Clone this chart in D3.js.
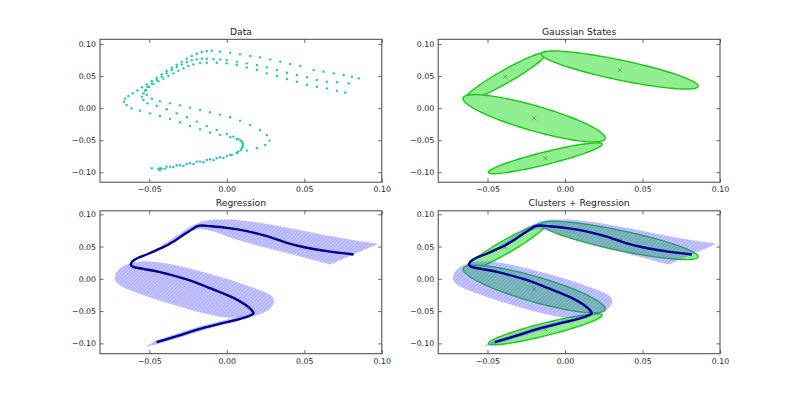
<!DOCTYPE html>
<html>
<head>
<meta charset="utf-8">
<script src="https://cdn.jsdelivr.net/npm/d3@7"></script>
<style>
  body { margin: 0; background: #fff; }
  svg { display: block; font-family: "DejaVu Sans", sans-serif; }
</style>
</head>
<body>
<script>

// ---- data ----
var demoA = [[-0.0431,-0.0938],[-0.0388,-0.0912],[-0.0323,-0.0891],[-0.0258,-0.0870],[-0.0194,-0.0834],[-0.0129,-0.0808],[-0.0065,-0.0782],[0.0000,-0.0745],[0.0065,-0.0704],[0.0129,-0.0662],[0.0194,-0.0626],[0.0248,-0.0574],[0.0276,-0.0507],[0.0258,-0.0418],[0.0215,-0.0340],[0.0151,-0.0262],[0.0086,-0.0195],[0.0022,-0.0143],[-0.0043,-0.0101],[-0.0108,-0.0065],[-0.0172,-0.0029],[-0.0237,0.0008],[-0.0301,0.0044],[-0.0366,0.0075],[-0.0431,0.0106],[-0.0484,0.0148],[-0.0517,0.0205],[-0.0528,0.0273],[-0.0512,0.0335],[-0.0484,0.0387],[-0.0452,0.0439],[-0.0420,0.0491],[-0.0388,0.0543],[-0.0355,0.0595],[-0.0323,0.0642],[-0.0291,0.0683],[-0.0258,0.0720],[-0.0226,0.0745],[-0.0194,0.0761],[-0.0161,0.0771],[-0.0129,0.0771],[-0.0086,0.0766],[-0.0043,0.0761],[0.0000,0.0751],[0.0065,0.0725],[0.0129,0.0699],[0.0194,0.0673],[0.0258,0.0636],[0.0323,0.0595],[0.0388,0.0553],[0.0452,0.0517],[0.0517,0.0481],[0.0581,0.0439],[0.0646,0.0413],[0.0711,0.0403],[0.0786,0.0387]];

var demoB = [[-0.0441,-0.0953],[-0.0420,-0.0943],[-0.0366,-0.0912],[-0.0301,-0.0891],[-0.0237,-0.0860],[-0.0172,-0.0834],[-0.0108,-0.0797],[-0.0043,-0.0766],[0.0022,-0.0730],[0.0065,-0.0694],[0.0090,-0.0652],[0.0103,-0.0600],[0.0103,-0.0548],[0.0090,-0.0507],[0.0065,-0.0481],[0.0022,-0.0455],[-0.0043,-0.0418],[-0.0108,-0.0382],[-0.0172,-0.0330],[-0.0237,-0.0278],[-0.0301,-0.0221],[-0.0366,-0.0169],[-0.0431,-0.0122],[-0.0495,-0.0081],[-0.0560,-0.0039],[-0.0614,-0.0003],[-0.0646,0.0049],[-0.0663,0.0101],[-0.0657,0.0148],[-0.0635,0.0190],[-0.0607,0.0231],[-0.0577,0.0278],[-0.0547,0.0325],[-0.0517,0.0371],[-0.0484,0.0423],[-0.0452,0.0475],[-0.0420,0.0527],[-0.0388,0.0579],[-0.0355,0.0631],[-0.0323,0.0678],[-0.0291,0.0725],[-0.0258,0.0771],[-0.0226,0.0813],[-0.0194,0.0849],[-0.0161,0.0875],[-0.0129,0.0891],[-0.0097,0.0896],[-0.0043,0.0881],[0.0022,0.0865],[0.0086,0.0839],[0.0151,0.0813],[0.0215,0.0792],[0.0280,0.0761],[0.0345,0.0725],[0.0409,0.0688],[0.0474,0.0657],[0.0560,0.0595],[0.0624,0.0569],[0.0689,0.0543],[0.0754,0.0517],[0.0807,0.0491],[0.0851,0.0465]];

var demoC = [[-0.0484,-0.0938],[-0.0431,-0.0964],[-0.0398,-0.0943],[-0.0345,-0.0922],[-0.0280,-0.0901],[-0.0215,-0.0870],[-0.0151,-0.0844],[-0.0086,-0.0813],[-0.0022,-0.0777],[0.0032,-0.0730],[0.0075,-0.0678],[0.0097,-0.0626],[0.0103,-0.0574],[0.0097,-0.0522],[0.0075,-0.0486],[0.0043,-0.0444],[0.0000,-0.0403],[-0.0065,-0.0340],[-0.0129,-0.0278],[-0.0194,-0.0210],[-0.0258,-0.0143],[-0.0323,-0.0081],[-0.0388,-0.0018],[-0.0452,0.0034],[-0.0512,0.0075],[-0.0538,0.0127],[-0.0547,0.0179],[-0.0538,0.0231],[-0.0521,0.0283],[-0.0500,0.0335],[-0.0474,0.0377],[-0.0441,0.0418],[-0.0409,0.0460],[-0.0377,0.0501],[-0.0345,0.0543],[-0.0312,0.0584],[-0.0280,0.0621],[-0.0248,0.0657],[-0.0215,0.0683],[-0.0172,0.0704],[-0.0129,0.0709],[-0.0065,0.0709],[0.0000,0.0699],[0.0065,0.0673],[0.0129,0.0636],[0.0194,0.0595],[0.0258,0.0543],[0.0323,0.0501],[0.0388,0.0455],[0.0452,0.0413],[0.0517,0.0361],[0.0581,0.0335],[0.0646,0.0309],[0.0711,0.0273],[0.0764,0.0242]];

// gaussian states: centre, major half-axis, minor half-axis (data units)
var stateCenters = [[-0.0386,0.0491],[0.0353,0.0595],[-0.0199,-0.0158],[-0.0127,-0.0782]];
var stateMajor   = [[0.0264,0.0364],[0.0506,-0.0255],[0.0458,-0.0317],[0.0367,0.0221]];
var stateMinor   = [[0.0021,-0.0088],[-0.0013,-0.0152],[-0.0022,-0.0188],[0.0010,-0.0095]];

// regression mean
var regMean = [[-0.0453,-0.0982],[-0.0323,-0.0889],[-0.0173,-0.0775],[0.0000,-0.0672],[0.0086,-0.0620],[0.0151,-0.0568],[0.0172,-0.0537],[0.0161,-0.0486],[0.0118,-0.0398],[0.0043,-0.0295],[-0.0108,-0.0145],[-0.0259,-0.0010],[-0.0431,0.0103],[-0.0539,0.0155],[-0.0603,0.0186],[-0.0620,0.0222],[-0.0607,0.0274],[-0.0571,0.0326],[-0.0517,0.0377],[-0.0453,0.0444],[-0.0388,0.0517],[-0.0323,0.0610],[-0.0259,0.0713],[-0.0216,0.0780],[-0.0190,0.0817],[-0.0162,0.0827],[-0.0108,0.0817],[0.0000,0.0790],[0.0129,0.0739],[0.0258,0.0661],[0.0387,0.0558],[0.0516,0.0481],[0.0646,0.0429],[0.0818,0.0377]];

// regression covariance band outlines
var bandUpper = [[-0.0485,0.0403],[-0.0410,0.0532],[-0.0323,0.0672],[-0.0237,0.0806],[-0.0162,0.0894],[-0.0087,0.0920],[0.0043,0.0920],[0.0215,0.0868],[0.0430,0.0775],[0.0646,0.0672],[0.0861,0.0584],[0.0979,0.0543],[0.0667,0.0222],[0.0430,0.0372],[0.0215,0.0506],[0.0043,0.0620],[-0.0087,0.0739],[-0.0173,0.0775],[-0.0237,0.0734],[-0.0323,0.0610],[-0.0410,0.0496],[-0.0474,0.0393]];
var bandMiddle = [[-0.0722,0.0031],[-0.0707,0.0119],[-0.0668,0.0196],[-0.0603,0.0253],[-0.0517,0.0274],[-0.0388,0.0238],[-0.0216,0.0145],[-0.0044,0.0031],[0.0129,-0.0103],[0.0236,-0.0196],[0.0290,-0.0269],[0.0305,-0.0357],[0.0284,-0.0450],[0.0226,-0.0537],[0.0129,-0.0594],[0.0000,-0.0599],[-0.0130,-0.0543],[-0.0259,-0.0465],[-0.0388,-0.0372],[-0.0517,-0.0269],[-0.0625,-0.0176],[-0.0690,-0.0098],[-0.0718,-0.0036]];
var bandLower = [[-0.0528,-0.1054],[-0.0453,-0.0951],[-0.0323,-0.0848],[-0.0173,-0.0734],[0.0000,-0.0630],[0.0129,-0.0568],[0.0160,-0.0579],[0.0129,-0.0620],[0.0000,-0.0693],[-0.0173,-0.0811],[-0.0323,-0.0925],[-0.0453,-0.1018]];

var titles = ["Data", "Gaussian States", "Regression", "Clusters + Regression"];
var xTicks = [-0.05, 0.00, 0.05, 0.10];
var xTickLabels = ["\u22120.05", "0.00", "0.05", "0.10"];
var yTicks = [-0.10, -0.05, 0.00, 0.05, 0.10];
var yTickLabels = ["\u22120.10", "\u22120.05", "0.00", "0.05", "0.10"];
var xLimits = [-0.0818, 0.10];
var yLimitsTop = [-0.1155, 0.1074];
var yLimitsBottom = [-0.1160, 0.1054];

// ---- layout ----
var width = 800, height = 393;
var cols = [[100, 381.8], [438.2, 720]];
var rows = [[39.3, 182.2], [210.8, 353.7]];

var svg = d3.select("body").append("svg")
    .attr("width", width)
    .attr("height", height);

var defs = svg.append("defs");
var pat = defs.append("pattern")
    .attr("id", "hatch")
    .attr("patternUnits", "userSpaceOnUse")
    .attr("width", 2.6).attr("height", 2.6)
    .attr("patternTransform", "rotate(45)");
pat.append("rect").attr("width", 2.6).attr("height", 2.6)
    .attr("fill", "rgb(90,90,255)").attr("fill-opacity", 0.34);
pat.append("line").attr("x1", 0.5).attr("y1", 0).attr("x2", 0.5).attr("y2", 2.6)
    .attr("stroke", "rgb(50,50,255)").attr("stroke-opacity", 0.22).attr("stroke-width", 0.9);

function makePanel(i) {
  var c = cols[i % 2], r = rows[Math.floor(i / 2)];
  var x = d3.scaleLinear().domain(xLimits).range(c);
  var y = d3.scaleLinear().domain(i < 2 ? yLimitsTop : yLimitsBottom).range([r[1], r[0]]);
  var g = svg.append("g");

  defs.append("clipPath").attr("id", "clip" + i)
    .append("rect").attr("x", c[0]).attr("y", r[0])
    .attr("width", c[1] - c[0]).attr("height", r[1] - r[0]);

  var plot = g.append("g").attr("clip-path", "url(#clip" + i + ")");

  // axes, classic style: inward ticks on all four sides
  g.append("g").attr("transform", "translate(0," + r[1] + ")")
    .call(d3.axisBottom(x).tickValues(xTicks).tickFormat(function(d, k) { return xTickLabels[k]; })
      .tickSizeInner(-3.6).tickSizeOuter(0).tickPadding(4.5));
  g.append("g").attr("transform", "translate(0," + r[0] + ")")
    .call(d3.axisTop(x).tickValues(xTicks).tickFormat("").tickSizeInner(-3.6).tickSizeOuter(0));
  g.append("g").attr("transform", "translate(" + c[0] + ",0)")
    .call(d3.axisLeft(y).tickValues(yTicks).tickFormat(function(d, k) { return yTickLabels[k]; })
      .tickSizeInner(-3.6).tickSizeOuter(0).tickPadding(4));
  g.append("g").attr("transform", "translate(" + c[1] + ",0)")
    .call(d3.axisRight(y).tickValues(yTicks).tickFormat("").tickSizeInner(-3.6).tickSizeOuter(0));

  g.selectAll(".domain").remove();
  g.selectAll(".tick line").attr("stroke", "#444").attr("stroke-width", 0.8);
  g.selectAll(".tick text").attr("font-size", "7.8px").attr("fill", "#222")
    .attr("font-family", "DejaVu Sans, sans-serif");

  g.append("rect").attr("x", c[0]).attr("y", r[0])
    .attr("width", c[1] - c[0]).attr("height", r[1] - r[0])
    .attr("fill", "none").attr("stroke", "#444").attr("stroke-width", 1);

  g.append("text").attr("x", (c[0] + c[1]) / 2).attr("y", r[0] - 4.5)
    .attr("text-anchor", "middle").attr("font-size", "9.2px").attr("fill", "#222")
    .text(titles[i]);

  return {plot: plot, x: x, y: y};
}

function drawStates(p) {
  var line = d3.line().x(function(d) { return p.x(d[0]); }).y(function(d) { return p.y(d[1]); })
      .curve(d3.curveLinearClosed);
  stateCenters.forEach(function(ctr, k) {
    var a = stateMajor[k], b = stateMinor[k], pts = [];
    for (var t = 0; t < 120; t++) {
      var th = t / 120 * 2 * Math.PI;
      pts.push([ctr[0] + a[0] * Math.cos(th) + b[0] * Math.sin(th),
                ctr[1] + a[1] * Math.cos(th) + b[1] * Math.sin(th)]);
    }
    p.plot.append("path").attr("d", line(pts))
      .attr("fill", "#90ee90").attr("stroke", "#16c816").attr("stroke-width", 1.4);
  });
  p.plot.selectAll(".ctr").data(stateCenters).enter().append("path")
    .attr("class", "ctr")
    .attr("transform", function(d) { return "translate(" + p.x(d[0]) + "," + p.y(d[1]) + ")"; })
    .attr("d", "M-2,-2L2,2M-2,2L2,-2")
    .attr("stroke", "#3aa83a").attr("stroke-width", 0.8);
}

function drawRegression(p) {
  var lin = d3.line().x(function(d) { return p.x(d[0]); }).y(function(d) { return p.y(d[1]); });
  var band = p.plot.append("g");
  band.append("path").attr("d", lin.curve(d3.curveLinearClosed)(bandUpper)).attr("fill", "url(#hatch)");
  band.append("path").attr("d", lin.curve(d3.curveCatmullRomClosed)(bandMiddle)).attr("fill", "url(#hatch)");
  band.append("path").attr("d", lin.curve(d3.curveLinearClosed)(bandLower)).attr("fill", "url(#hatch)");
  p.plot.append("path").attr("d", lin.curve(d3.curveCatmullRom)(regMean))
    .attr("fill", "none").attr("stroke", "#00008f").attr("stroke-width", 2.4)
    .attr("stroke-linejoin", "round");
}

// panel 1: data
var p0 = makePanel(0);
[demoA, demoB, demoC].forEach(function(demo) {
  p0.plot.append("g").selectAll("circle").data(demo).enter().append("circle")
    .attr("cx", function(d) { return p0.x(d[0]); })
    .attr("cy", function(d) { return p0.y(d[1]); })
    .attr("r", 1.2)
    .attr("fill", "#1cc9b0");
});

// panel 2: gaussian states
var p1 = makePanel(1);
drawStates(p1);

// panel 3: regression
var p2 = makePanel(2);
drawRegression(p2);

// panel 4: clusters + regression
var p3 = makePanel(3);
drawStates(p3);
drawRegression(p3);

</script>
</body>
</html>
